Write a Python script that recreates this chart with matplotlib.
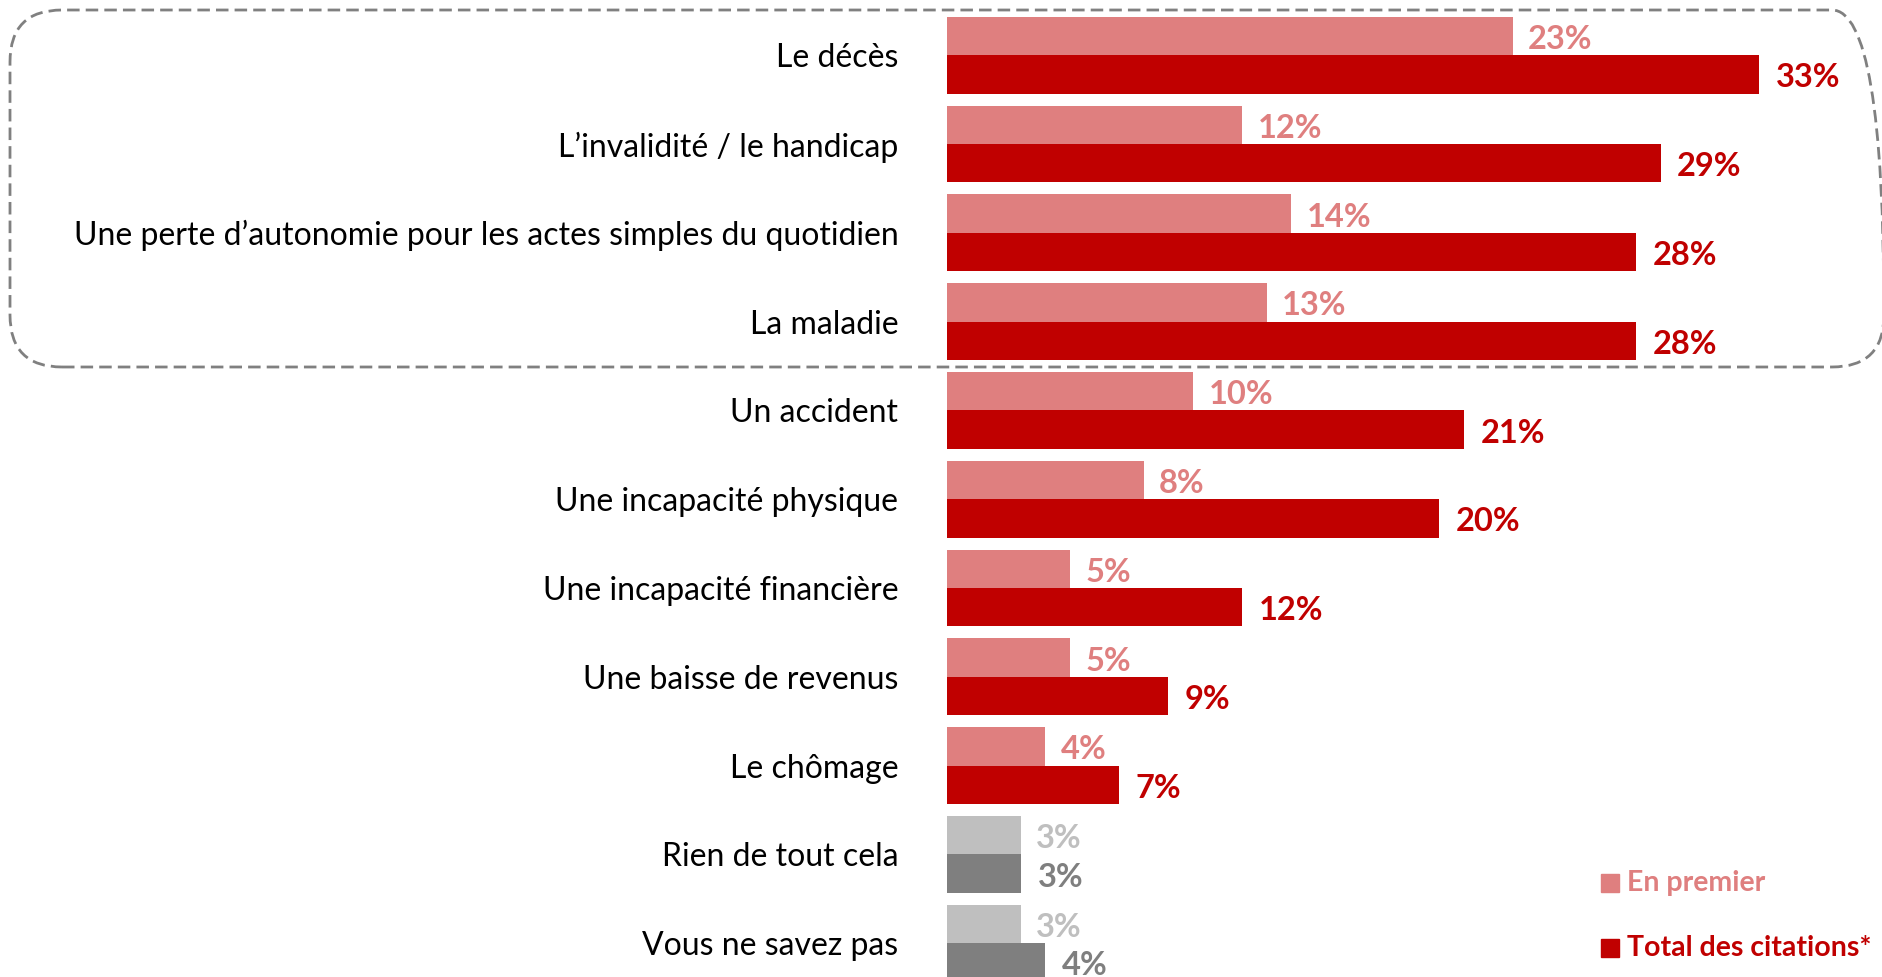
import matplotlib
matplotlib.use("Agg")
import matplotlib.pyplot as plt
from matplotlib.patches import FancyBboxPatch, Rectangle
from matplotlib.transforms import IdentityTransform

# données
categories = [
    "Le décès",
    "L\u2019invalidité / le handicap",
    "Une perte d\u2019autonomie pour les actes simples du quotidien",
    "La maladie",
    "Un accident",
    "Une incapacité physique",
    "Une incapacité financière",
    "Une baisse de revenus",
    "Le chômage",
    "Rien de tout cela",
    "Vous ne savez pas",
]
en_premier = [23, 12, 14, 13, 10, 8, 5, 5, 4, 3, 3]
total_citations = [33, 29, 28, 28, 21, 20, 12, 9, 7, 3, 4]
series_names = ["En premier", "Total des citations*"]
n_grey = 2  # les deux dernières lignes en gris

RED_LIGHT = "#DF7F7F"
RED_DARK = "#C00000"
GREY_LIGHT = "#BFBFBF"
GREY_DARK = "#7F7F7F"

plt.rcParams["font.family"] = ["Lato", "DejaVu Sans"]

W, H = 1882, 977
fig = plt.figure(figsize=(W / 100, H / 100), dpi=100)
ax = fig.add_axes([947 / W, 0, 935 / W, 1])

h = 0.432
n = len(categories)
for i in range(n):
    grey = i >= n - n_grey
    c1 = GREY_LIGHT if grey else RED_LIGHT
    c2 = GREY_DARK if grey else RED_DARK
    ax.barh(i - h / 2, en_premier[i], height=h, color=c1)
    ax.barh(i + h / 2, total_citations[i], height=h, color=c2)
    ax.annotate(f"{en_premier[i]}%", (en_premier[i], i - h / 2),
                xytext=(11, -2.5), textcoords="offset points",
                va="center", ha="left", fontsize=23.5, fontweight="bold", color=c1)
    ax.annotate(f"{total_citations[i]}%", (total_citations[i], i + h / 2),
                xytext=(12, -2.5), textcoords="offset points",
                va="center", ha="left", fontsize=23.5, fontweight="bold", color=c2)

ax.set_xlim(0, 38)
ax.set_ylim(10.38, -0.622)
ax.set_yticks(range(n))
ax.set_yticklabels(categories, fontsize=23, color="black")
ax.tick_params(axis="y", length=0, pad=35)
ax.set_xticks([])
for s in ax.spines.values():
    s.set_visible(False)

# cadre pointillé arrondi autour des 4 premiers items
box = FancyBboxPatch((10, H - 367), 1874, 357,
                     boxstyle="round,pad=0,rounding_size=52",
                     transform=IdentityTransform(), fill=False,
                     edgecolor="#808080", linewidth=2, linestyle=(0, (4.5, 2.2)))
fig.patches.append(box)

# légende
for name, col, ypix in zip(series_names, [RED_LIGHT, RED_DARK], [883, 948]):
    fig.patches.append(Rectangle((1601, H - ypix - 9), 18, 18, color=col,
                                 transform=IdentityTransform()))
    fig.text(1627 / W, 1 - ypix / H, name, va="center", ha="left",
             fontsize=20.5, fontweight="bold", color=col)

fig.savefig("out.png", dpi=100)
